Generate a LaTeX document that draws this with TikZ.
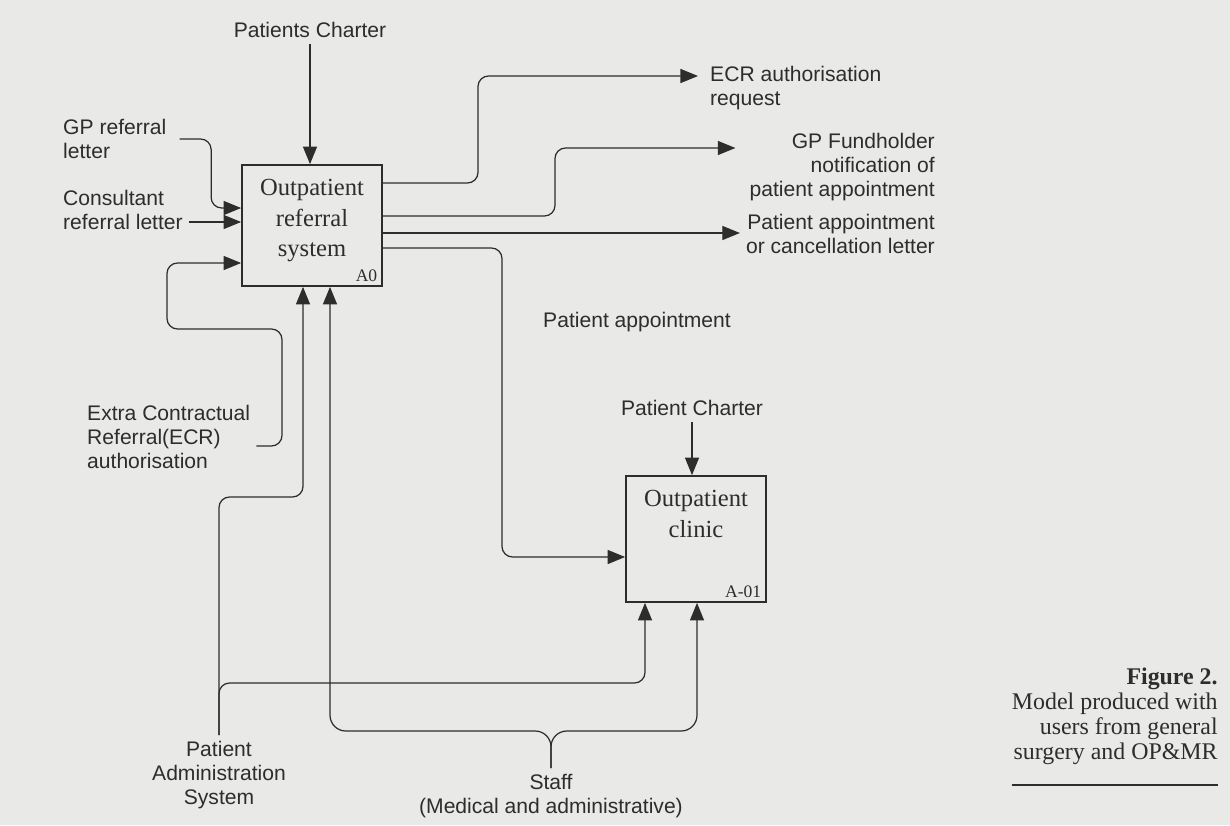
\documentclass[tikz,border=0pt]{standalone}
\usepackage{fontspec}
\setmainfont{Liberation Serif}
\newfontfamily\arial{Liberation Sans}
\usetikzlibrary{arrows.meta,positioning,calc}
\definecolor{paper}{RGB}{233,233,231}
\definecolor{ink}{RGB}{45,45,45}

\begin{document}
\begin{tikzpicture}[x=0.02cm, y=-0.02cm, ink,
        act/.style = {draw, line width=1pt, minimum width=2.8cm, inner sep=0},
        acttext/.style = {align=center, font=\fontsize{14}{17.5}\selectfont},
        num/.style = {font=\fontsize{10}{11}\selectfont, inner sep=3pt},
        lab/.style = {font=\arial\fontsize{12}{13.6}\selectfont},
        arr/.style = {-{Triangle[length=10pt,width=8pt]}, line width=0.7pt, rounded corners=6pt}]
        \fill[paper] (0,0) rectangle (1230,825);

        % activity boxes
        \node[act, minimum height=2.42cm] (a0) at (312,225.5) {};
        \node[acttext, below=5pt of a0.north] (a0t) {Outpatient\\referral\\system};
        \node[num, anchor=south east] (a0n) at (a0.south east) {A0};

        \node[act, minimum height=2.52cm] (a01) at (696,539) {};
        \node[acttext, below=5pt of a01.north] (a01t) {Outpatient\\clinic};
        \node[num, anchor=south east] (a01n) at (a01.south east) {A-01};

        % labels
        \node[lab] (pc) at (310,30) {Patients Charter};
        \node[lab, align=left, anchor=west] (gp) at (57,139) {GP referral\\letter};
        \node[lab, align=left, anchor=west] (cons) at (57,210) {Consultant\\referral letter};
        \node[lab, align=left, anchor=west] (ecr) at (81,437) {Extra Contractual\\Referral(ECR)\\authorisation};
        \node[lab, align=center] (pas) at (219,775) {Patient\\Administration\\System};
        \node[lab, align=center] (staff) at (551,796) {Staff\\(Medical and administrative)};
        \node[lab, align=left, anchor=west] (ecrreq) at (704,88) {ECR authorisation\\request};
        \node[lab, align=right, anchor=east] (gpf) at (941,167) {GP Fundholder\\notification of\\patient appointment};
        \node[lab, align=right, anchor=east] (pal) at (941,234) {Patient appointment\\or cancellation letter};
        \node[lab] (papp) at (637,322) {Patient appointment};
        \node[lab] (pch) at (692,408) {Patient Charter};
        \node[font=\fontsize{13.6}{14.2}\selectfont, align=right, anchor=north east, inner sep=0] (cap) at (1218,668) {\textbf{Figure 2.}\\Model produced with\\users from general\\surgery and OP\&MR};

        % ports
        \coordinate (i1) at ($(a0.west)+(0,-17.5)$);
        \coordinate (i2) at ($(a0.west)+(0,-3.5)$);
        \coordinate (i3) at ($(a0.west)+(0,37.5)$);
        \coordinate (o1) at ($(a0.east)+(0,-42.5)$);
        \coordinate (o2) at ($(a0.east)+(0,-9.5)$);
        \coordinate (o3) at ($(a0.east)+(0,7.5)$);
        \coordinate (o4) at ($(a0.east)+(0,22.5)$);
        \coordinate (m1) at ($(a0.south)+(-9,0)$);
        \coordinate (m2) at ($(a0.south)+(18,0)$);
        \coordinate (ci) at ($(a01.west)+(0,18)$);
        \coordinate (cm1) at ($(a01.south)+(-51,0)$);
        \coordinate (cm2) at ($(a01.south)+(1,0)$);
        \coordinate (ecrtip) at ($(ecrreq.west)+(-6,-12)$);
        \coordinate (gpftip) at ($(gpf.west)+(-8,-19)$);

        \draw[arr] (pc.south) -- (pc.south |- a0.north);
        \draw[arr, shorten <=4pt] (gp.east) -| ($(i1)+(-30,0)$) -- (i1);
        \draw[arr] (cons.east |- i2) -- (i2);
        \draw[arr] ($(ecr.east)+(0,9)$) -| (282,329) -| (167,300) |- (i3);
        \draw[arr] (o1) -| (478,120) |- (ecrtip);
        \draw[arr] (o2) -| (555,180) |- (gpftip);
        \draw[arr] (o3) -- (o3 -| pal.west);
        \draw[arr] (o4) -| (502,400) |- (ci);
        \draw[arr] (pch.south) -- (pch.south |- a01.north);
        \draw[arr] (pas.north) |- (m1 |- 0,497) -- (m1);
        \draw[arr] (pas.north) |- (cm1 |- 0,683) -- (cm1);
        \draw[arr, rounded corners=9pt] (staff.north) |- (m2 |- 0,731) -- (m2);
        \draw[arr, rounded corners=9pt] (staff.north) |- (cm2 |- 0,731) -- (cm2);
        \draw[line width=0.8pt] (cap.west |- 0,785) -- (cap.east |- 0,785);

    \end{tikzpicture}
\end{document}
